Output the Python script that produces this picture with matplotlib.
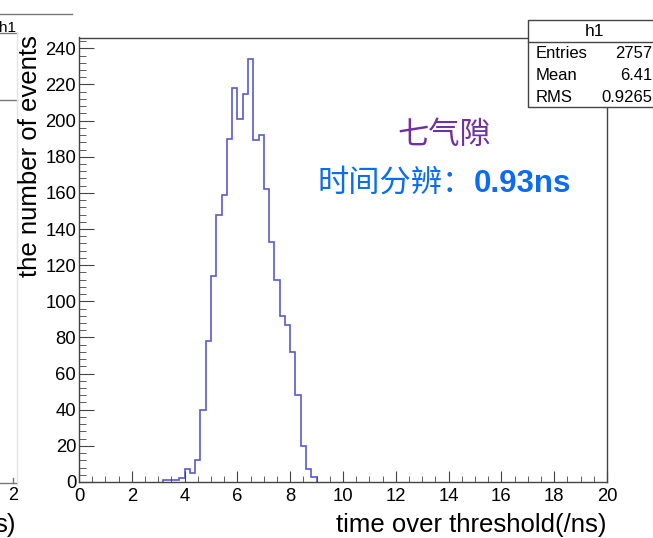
import numpy as np
import matplotlib
matplotlib.use("Agg")
import matplotlib.pyplot as plt
from matplotlib.patches import Rectangle
from matplotlib.lines import Line2D
from matplotlib.ticker import MultipleLocator

plt.rcParams['font.family'] = ['Liberation Sans', 'Noto Sans CJK SC']

# histogram data (time over threshold, 0.2 ns bins)
bin_lo = 3.2
bin_w = 0.2
counts = [1, 1, 1, 2, 7, 5, 12, 40, 78,
          114, 148, 159, 190, 218, 201, 215, 234, 189, 192,
          162, 133, 112, 92, 87, 72, 48, 20, 7, 3]

x_range = (0, 20)
y_max = 246

stat_names = ["Entries", "Mean", "RMS"]
stat_values = ["2757", "6.41", "0.9265"]

title_cn = "七气隙"
res_cn = "时间分辨："
res_val = "0.93ns"

W, H = 653, 538
fig = plt.figure(figsize=(W / 100, H / 100), dpi=100)


def fx(px):
    return px / W


def fy(py):
    return 1 - py / H


# axes frame in pixel coords
left, right, top, bottom = 79, 607, 37.5, 482
ax = fig.add_axes([fx(left), fy(bottom), fx(right) - fx(left), fy(top) - fy(bottom)])

edges = bin_lo + bin_w * np.arange(len(counts) + 1)
ax.stairs(counts, edges, baseline=0, color="#5a5ad0", lw=1.2)

ax.set_xlim(*x_range)
ax.set_ylim(0, y_max)
ax.xaxis.set_major_locator(MultipleLocator(2))
ax.xaxis.set_minor_locator(MultipleLocator(0.5))
ax.yaxis.set_major_locator(MultipleLocator(20))
ax.yaxis.set_minor_locator(MultipleLocator(4))
ax.tick_params(which="both", direction="in", top=False, right=False,
               colors="#444444", labelcolor="black", labelsize=13.3)
ax.tick_params(axis="x", which="major", length=8, pad=4.5)
ax.tick_params(axis="x", which="minor", length=4.3)
ax.tick_params(axis="y", which="major", length=10.8, pad=2)
ax.tick_params(axis="y", which="minor", length=5)
for s in ax.spines.values():
    s.set_color("#444444")
    s.set_linewidth(1.0)

# axis titles (ROOT style, right adjusted)
fig.text(fx(607), fy(532), "time over threshold(/ns)", ha="right", va="baseline",
         fontsize=18.5)
fig.text(fx(37), fy(35), "the number of events", rotation=90, rotation_mode="anchor",
         ha="right", va="baseline", fontsize=18.5)

# annotations
fig.text(fx(444), fy(144), title_cn, ha="center", va="baseline", fontsize=22.5,
         color="#7030a0", family="Noto Sans CJK SC")
fig.text(fx(474), fy(192), res_cn, ha="right", va="baseline", fontsize=22.5,
         color="#0a6cf0", family="Noto Sans CJK SC")
fig.text(fx(474), fy(192), res_val, ha="left", va="baseline", fontsize=22.5,
         color="#0a6cf0", fontweight="bold", family="Liberation Sans")

# stats box
fig.add_artist(Rectangle((fx(528), fy(107)), fx(700) - fx(528), fy(20) - fy(107),
                         transform=fig.transFigure, facecolor="white",
                         edgecolor="#444444", lw=1.0))
fig.add_artist(Line2D([fx(528), fx(653)], [fy(42), fy(42)], color="#444444", lw=1.0))
fig.text(fx(595), fy(31), "h1", ha="center", va="center", fontsize=12.5)
for i, (n, v) in enumerate(zip(stat_names, stat_values)):
    yy = fy(54 + 22 * i)
    fig.text(fx(536), yy, n, ha="left", va="center", fontsize=12)
    fig.text(fx(652), yy, v, ha="right", va="center", fontsize=12)

# remnants of the neighbouring canvas on the left
grey = "#777777"
fig.add_artist(Line2D([0, fx(72)], [fy(14), fy(14)], color=grey, lw=1.0))
fig.add_artist(Line2D([0, fx(17)], [fy(33), fy(33)], color=grey, lw=1.0))
fig.add_artist(Line2D([0, fx(17)], [fy(100), fy(100)], color=grey, lw=1.0))
fig.add_artist(Line2D([fx(17), fx(17)], [fy(33), fy(485)], color="#e4e4e4", lw=1.0))
fig.add_artist(Line2D([0, fx(16)], [fy(483), fy(483)], color=grey, lw=1.0))
fig.add_artist(Line2D([fx(13), fx(13)], [fy(478), fy(483)], color=grey, lw=1.0))
fig.text(fx(16), fy(28), "h1", ha="right", va="center", fontsize=11)
fig.text(fx(13), fy(496), "2", ha="center", va="center", fontsize=13)
fig.text(fx(16), fy(532), "s)", ha="right", va="baseline", fontsize=18.5)

fig.savefig("out.png", dpi=100)
